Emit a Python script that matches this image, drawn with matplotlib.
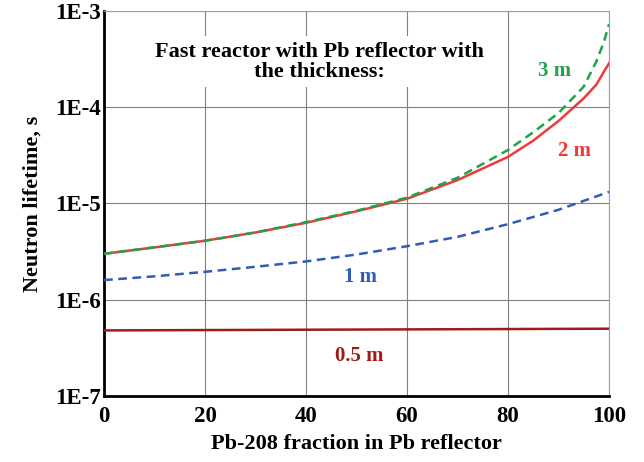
import math
import matplotlib.pyplot as plt
from matplotlib.ticker import FixedLocator, FuncFormatter, NullLocator

# Podaci (procijenjeni sa slike)
x_pts = [0, 10, 20, 30, 40, 50, 60, 70, 80, 85, 90, 95, 97.5, 99, 100]
t_3m = [3.0e-6, 3.5e-6, 4.1e-6, 5.0e-6, 6.4e-6, 8.4e-6, 1.15e-5, 1.85e-5, 3.6e-5, 5.5e-5,
        8.7e-5, 1.64e-4, 3.0e-4, 4.8e-4, 7.3e-4]
t_2m = [3.0e-6, 3.5e-6, 4.1e-6, 5.0e-6, 6.3e-6, 8.3e-6, 1.12e-5, 1.75e-5, 3.05e-5, 4.5e-5,
        7.2e-5, 1.24e-4, 1.72e-4, 2.35e-4, 2.86e-4]

x_1m = [0, 10, 20, 30, 40, 50, 60, 70, 80, 90, 100]
t_1m = [1.6e-6, 1.75e-6, 1.95e-6, 2.2e-6, 2.5e-6, 2.95e-6, 3.6e-6, 4.5e-6, 6.1e-6, 8.6e-6, 1.32e-5]

x_05m = [0, 50, 100]
t_05m = [4.8e-7, 4.9e-7, 5.0e-7]

y_ticks = [1e-7, 1e-6, 1e-5, 1e-4, 1e-3]
x_ticks = [0, 20, 40, 60, 80, 100]

plt.rcParams['font.family'] = ['Liberation Serif', 'DejaVu Serif']
plt.rcParams['font.weight'] = 'bold'

fig = plt.figure(figsize=(6.44, 4.62), dpi=100)
ax = fig.add_axes([0.1615, 0.1429, 0.7842, 0.8333])

ax.plot(x_05m, t_05m, color="#a01c1c", lw=1.8, zorder=3)
ax.plot(x_1m, t_1m, color="#2f5db5", lw=1.8, dashes=(3.5, 2.2), zorder=3)
ax.plot(x_pts, t_2m, color="#f0393a", lw=1.8, zorder=3)
ax.plot(x_pts, t_3m, color="#1fa34a", lw=1.8, dashes=(3.5, 2.2), zorder=4)

ax.set_yscale("log")
ax.set_xlim(0, 100)
ax.set_ylim(1e-7, 1e-3)
ax.yaxis.set_major_locator(FixedLocator(y_ticks))
ax.yaxis.set_minor_locator(NullLocator())
ax.yaxis.set_major_formatter(FuncFormatter(lambda v, p: "1E%d" % round(math.log10(v))))
ax.set_xticks(x_ticks)
ax.tick_params(axis="y", length=0, labelsize=16.5, pad=2)
ax.tick_params(axis="x", length=0, labelsize=16.5, pad=7)
for lab in ax.get_xticklabels() + ax.get_yticklabels():
    lab.set_fontweight("bold")

ax.grid(True, color="#808080", lw=0.8)
ax.set_axisbelow(True)
for s in ["top", "right"]:
    ax.spines[s].set_color("#a0a0a0")
    ax.spines[s].set_linewidth(0.8)
for s in ["left", "bottom"]:
    ax.spines[s].set_color("black")
    ax.spines[s].set_linewidth(2)

ax.set_xlabel("Pb-208 fraction in Pb reflector", fontsize=16, fontweight="bold", labelpad=5)
ax.set_ylabel("Neutron lifetime, s", fontsize=16, fontweight="bold", labelpad=9)

# Naslov u grafikonu, bijela pozadina prekriva mrezu
ax.text(42.7, 2.98e-4, "Fast reactor with Pb reflector with\nthe thickness:",
        fontsize=16, fontweight="bold", ha="center", va="center", linespacing=1.0, zorder=2,
        bbox=dict(facecolor="white", edgecolor="none", pad=4))
ax.text(89.3, 2.38e-4, "3 m", color="#1fa34a", fontsize=15, fontweight="bold", ha="center", va="center")
ax.text(93.1, 3.5e-5, "2 m", color="#f0393a", fontsize=15, fontweight="bold", ha="center", va="center")
ax.text(50.7, 1.72e-6, "1 m", color="#2f5db5", fontsize=15, fontweight="bold", ha="center", va="center")
ax.text(50.5, 2.6e-7, "0.5 m", color="#a01c1c", fontsize=15, fontweight="bold", ha="center", va="center")

plt.savefig("out.png", dpi=100)
